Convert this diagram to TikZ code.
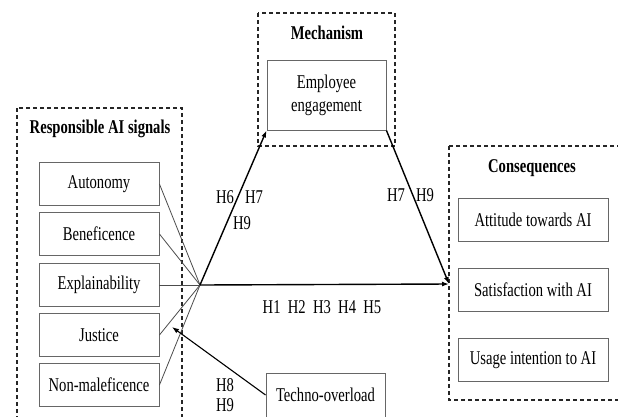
\documentclass[tikz,border=0pt]{standalone}
\usepackage{fontspec}
\setmainfont{Liberation Serif}[FakeStretch=0.75]
\usetikzlibrary{arrows.meta}

\begin{document}
\begin{tikzpicture}[x=1pt, y=-1pt, font=\fontsize{19.5}{23}\selectfont,
  >={Latex[length=7pt,width=5pt]},
  box/.style={rectangle, draw=black!60, line width=0.9pt, minimum height=43pt, inner sep=2pt},
  sigbox/.style={box, minimum width=120pt},
  conbox/.style={box, minimum width=150pt},
  grpbox/.style={draw=black!85, line width=1.3pt, dash pattern=on 4pt off 3pt},
  grptitle/.style={font=\fontsize{19.5}{23}\selectfont\bfseries},
  hyp/.style={inner sep=0pt},
  feed/.style={draw=black!70, line width=0.8pt},
  link/.style={->, line width=1.4pt}]
  \useasboundingbox (0,0) rectangle (618,416);
  \clip (0,0) rectangle (618,416);

  % dashed groups
  \draw[grpbox] (17,108) rectangle (182,422);
  \draw[grpbox] (258,13) rectangle (395,146);
  \draw[grpbox] (449,146) rectangle (624,400);
  \node[grptitle] (tSig) at (100,129) {Responsible AI signals};
  \node[grptitle] (tMech) at (327,33) {Mechanism};
  \node[grptitle] (tCons) at (532,168) {Consequences};

  % responsible AI signals
  \node[sigbox] (auto) at (99,184) {Autonomy};
  \node[sigbox] (bene) at (99,234) {Beneficence};
  \node[sigbox] (expl) at (99,285) {Explainability};
  \node[sigbox] (just) at (99,335) {Justice};
  \node[sigbox] (nonm) at (99,385) {Non-maleficence};

  % mechanism and moderator
  \node[box, minimum width=119pt, minimum height=70pt, align=center] (eng) at (326.5,95)
    {Employee\\engagement};
  \node[box, minimum width=119pt, minimum height=44pt] (tech) at (325.5,395) {Techno-overload};

  % consequences
  \node[conbox] (att) at (533,219.5) {Attitude towards AI};
  \node[conbox] (sat) at (533,290) {Satisfaction with AI};
  \node[conbox] (use) at (533,360) {Usage intention to AI};

  % junction points
  \coordinate (hub) at (200,285);
  \coordinate (cIn) at (449,284);
  \coordinate (tTip) at (172,327);

  \draw[feed] (auto.east) -- (hub);
  \draw[feed] (bene.east) -- (hub);
  \draw[feed] (expl.east) -- (hub);
  \draw[feed] (just.east) -- (hub);
  \draw[feed] (nonm.east) -- (hub);

  \draw[link] (hub) -- (eng.south west);
  \draw[link] (eng.south east) -- (cIn);
  \draw[link] (hub) -- (cIn);
  \draw[->, line width=1.1pt] (tech.west) -- (tTip);

  % hypotheses
  \node[hyp] (h6a) at (225,197) {H6};
  \node[hyp] (h7a) at (254,197) {H7};
  \node[hyp] (h9a) at (242,223) {H9};
  \node[hyp] (h7b) at (396,195) {H7};
  \node[hyp] (h9b) at (425,195) {H9};
  \node[hyp] (h15) at (322,307) {H1~~H2~~H3~~H4~~H5};
  \node[hyp] (h8c) at (225,385) {H8};
  \node[hyp] (h9c) at (225,405) {H9};
\end{tikzpicture}
\end{document}
